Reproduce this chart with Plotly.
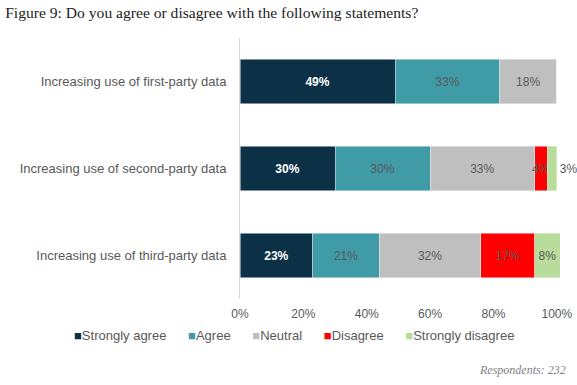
import plotly.graph_objects as go

categories = ["Increasing use of first-party data",
              "Increasing use of second-party data",
              "Increasing use of third-party data"]
series_names = ["Strongly agree", "Agree", "Neutral", "Disagree", "Strongly disagree"]
strongly_agree = [49, 30, 23]
agree = [33, 30, 21]
neutral = [18, 33, 32]
disagree = [0, 4, 17]
strongly_disagree = [0, 3, 8]
tick_vals = [0, 20, 40, 60, 80, 100]
tick_text = ["0%", "20%", "40%", "60%", "80%", "100%"]

values = [strongly_agree, agree, neutral, disagree, strongly_disagree]
colors = ["#0c3147", "#3f9ba6", "#bfbfbf", "#ff0000", "#b8dc9a"]
text_colors = ["#ffffff", "#595959", "#595959", "#595959", "#595959"]

SANS = "Liberation Sans, Arial, sans-serif"
SERIF = "Liberation Serif, Georgia, serif"

fig = go.Figure()
for name, vals, col, tc in zip(series_names, values, colors, text_colors):
    if tc == "#ffffff":
        texts = [f"<b>{v}%</b>" if v > 0 else "" for v in vals]
    else:
        texts = [f"{v}%" if v > 0 else "" for v in vals]
    if name == "Strongly disagree":
        positions = ["inside" if v >= 5 else "outside" for v in vals]
    else:
        positions = ["inside"] * len(vals)
    fig.add_trace(go.Bar(
        name=name, y=categories, x=vals, orientation="h",
        marker=dict(color=col, line=dict(width=0.5, color="#f2f2f2")),
        text=texts, textposition=positions, insidetextanchor="middle",
        textangle=0,
        textfont=dict(color=tc, size=13, family=SANS),
        outsidetextfont=dict(color="#595959", size=12, family=SANS),
        constraintext="none", cliponaxis=False,
        hoverinfo="skip", showlegend=False,
    ))

PLOT_H = 385 - 38 - 86
PLOT_W = 577 - 240 - 17

fig.update_layout(
    barmode="stack",
    bargap=0.49,
    width=577, height=385,
    margin=dict(l=240, r=17, t=38, b=86, autoexpand=False),
    paper_bgcolor="white", plot_bgcolor="white",
    font=dict(family=SANS, size=13, color="#595959"),
    uniformtext=dict(minsize=12, mode="show"),
    title=dict(text="Figure 9: Do you agree or disagree with the following statements?",
               x=0.009, xanchor="left", y=0.968, yanchor="middle",
               font=dict(family=SERIF, size=15.6, color="#222222")),
    showlegend=False,
    xaxis=dict(range=[0, 101], tickvals=tick_vals, ticktext=tick_text,
               showgrid=False, zeroline=False, showline=False, automargin=False,
               tickfont=dict(color="#595959", size=12), ticks="", ticklabelstandoff=6),
    yaxis=dict(autorange="reversed", showgrid=False, zeroline=False, automargin=False,
               showline=True, linecolor="#d9d9d9", linewidth=1, ticks="",
               ticklabelstandoff=10, tickfont=dict(color="#595959", size=13)),
)

# legend row built from the series names and colours
gap = "&nbsp;" * 6
legend_text = gap.join(
    f"<span style='color:{c}'>■</span>{n}" for n, c in zip(series_names, colors)
)
fig.add_annotation(text=legend_text, xref="paper", yref="paper",
                   x=(294 - 240) / PLOT_W, xanchor="center", y=-(335 - 299) / PLOT_H,
                   yanchor="middle", showarrow=False,
                   font=dict(family=SANS, size=13, color="#595959"))

fig.add_annotation(text="<i>Respondents: 232</i>", xref="paper", yref="paper",
                   x=(568 - 240) / PLOT_W, xanchor="right", y=-(370 - 299) / PLOT_H,
                   yanchor="middle", showarrow=False,
                   font=dict(family=SERIF, size=12, color="#7f7f7f"))

fig.write_html("out.html", config={"displayModeBar": False})

# remove the default page margin so the figure sits at the window's top-left corner
with open("out.html", "r", encoding="utf-8") as f:
    html = f.read()
html = html.replace("<head>", "<head><style>html,body{margin:0;padding:0;overflow:hidden;}</style>", 1)
with open("out.html", "w", encoding="utf-8") as f:
    f.write(html)
